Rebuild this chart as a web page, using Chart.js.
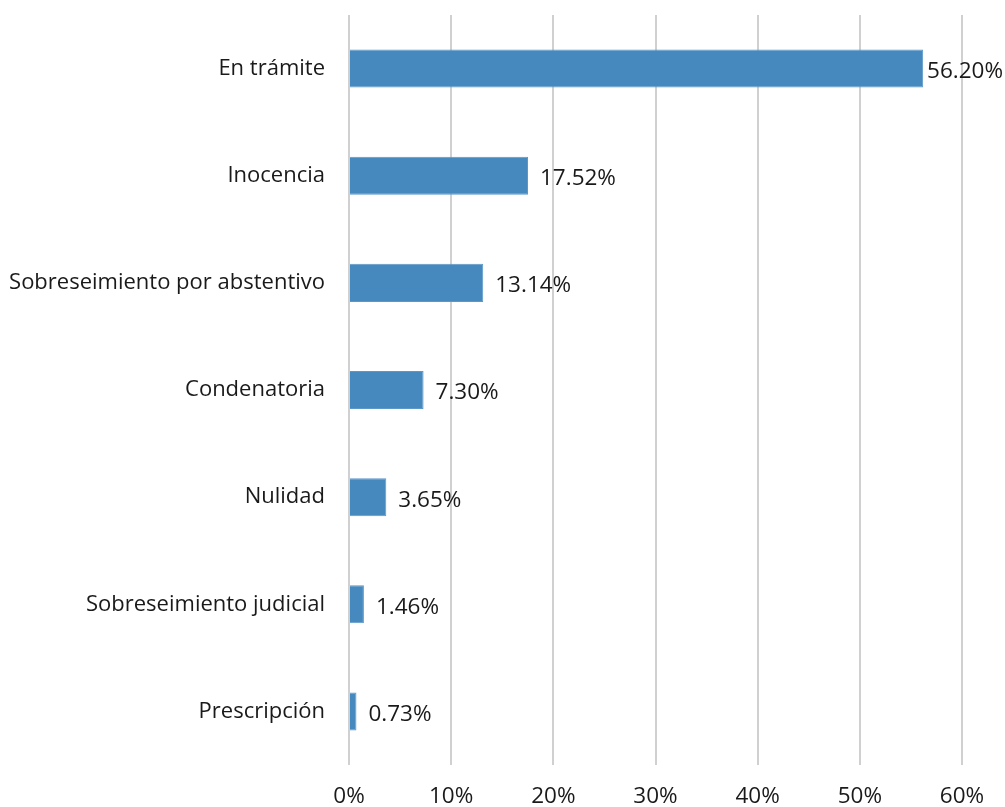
<!DOCTYPE html>
<html><head><meta charset="utf-8">
<script src="https://cdn.jsdelivr.net/npm/chart.js@4/dist/chart.umd.min.js"></script>
<style>html,body{margin:0;padding:0;background:#fff;}#wrap{width:1005px;height:807px;}</style>
</head><body><div id="wrap"><canvas id="c" width="1005" height="807"></canvas></div>
<script>
const categories = ["En trámite","Inocencia","Sobreseimiento por abstentivo","Condenatoria","Nulidad","Sobreseimiento judicial","Prescripción"];
const values = [56.20,17.52,13.14,7.30,3.65,1.46,0.73];
const valueLabels = ["56.20%","17.52%","13.14%","7.30%","3.65%","1.46%","0.73%"];
const xTicks = [0,10,20,30,40,50,60];

const FONT = "'Open Sans', 'Noto Sans', sans-serif";

const labelPlugin = {
  id: 'vlabels',
  afterDatasetsDraw(chart) {
    const ctx = chart.ctx;
    const meta = chart.getDatasetMeta(0);
    ctx.save();
    ctx.font = "22.5px " + FONT;
    ctx.fillStyle = '#1a1a1a';
    ctx.textBaseline = 'middle';
    ctx.textAlign = 'left';
    meta.data.forEach((bar, i) => {
      const t = valueLabels[i];
      const w = ctx.measureText(t).width;
      let x = bar.x + 12;
      x = Math.min(x, chart.width - w - 2);
      x = Math.max(x, bar.x + 1);
      ctx.fillText(t, x, bar.y + 3);
    });
    ctx.restore();
  }
};

new Chart(document.getElementById('c'), {
  type: 'bar',
  data: {
    labels: categories,
    datasets: [{
      data: values,
      backgroundColor: '#4689bf',
      borderColor: '#5b97c8',
      borderWidth: 1,
      barPercentage: 0.355,
      categoryPercentage: 1.0
    }]
  },
  options: {
    indexAxis: 'y',
    responsive: false,
    animation: false,
    layout: { padding: { top: 15, right: 43, bottom: 0, left: 0 } },
    plugins: { legend: { display: false }, tooltip: { enabled: false } },
    scales: {
      x: {
        min: 0, max: 60,
        afterBuildTicks(axis) { axis.ticks = xTicks.map(v => ({ value: v })); },
        afterFit(axis) { axis.height = 42; },
        grid: { color: '#d0d0d0', lineWidth: 2, drawTicks: false },
        border: { display: false },
        ticks: {
          padding: 18,
          color: '#1a1a1a',
          font: { family: FONT, size: 22.5 },
          callback: v => v + '%'
        }
      },
      y: {
        grid: { display: false, drawTicks: false },
        border: { display: false },
        afterFit(axis) { axis.width = 349; axis.paddingTop = 0; axis.paddingBottom = 0; },
        ticks: {
          padding: 24,
          color: '#1a1a1a',
          font: { family: FONT, size: 22 }
        }
      }
    }
  },
  plugins: [labelPlugin]
});
</script></body></html>
